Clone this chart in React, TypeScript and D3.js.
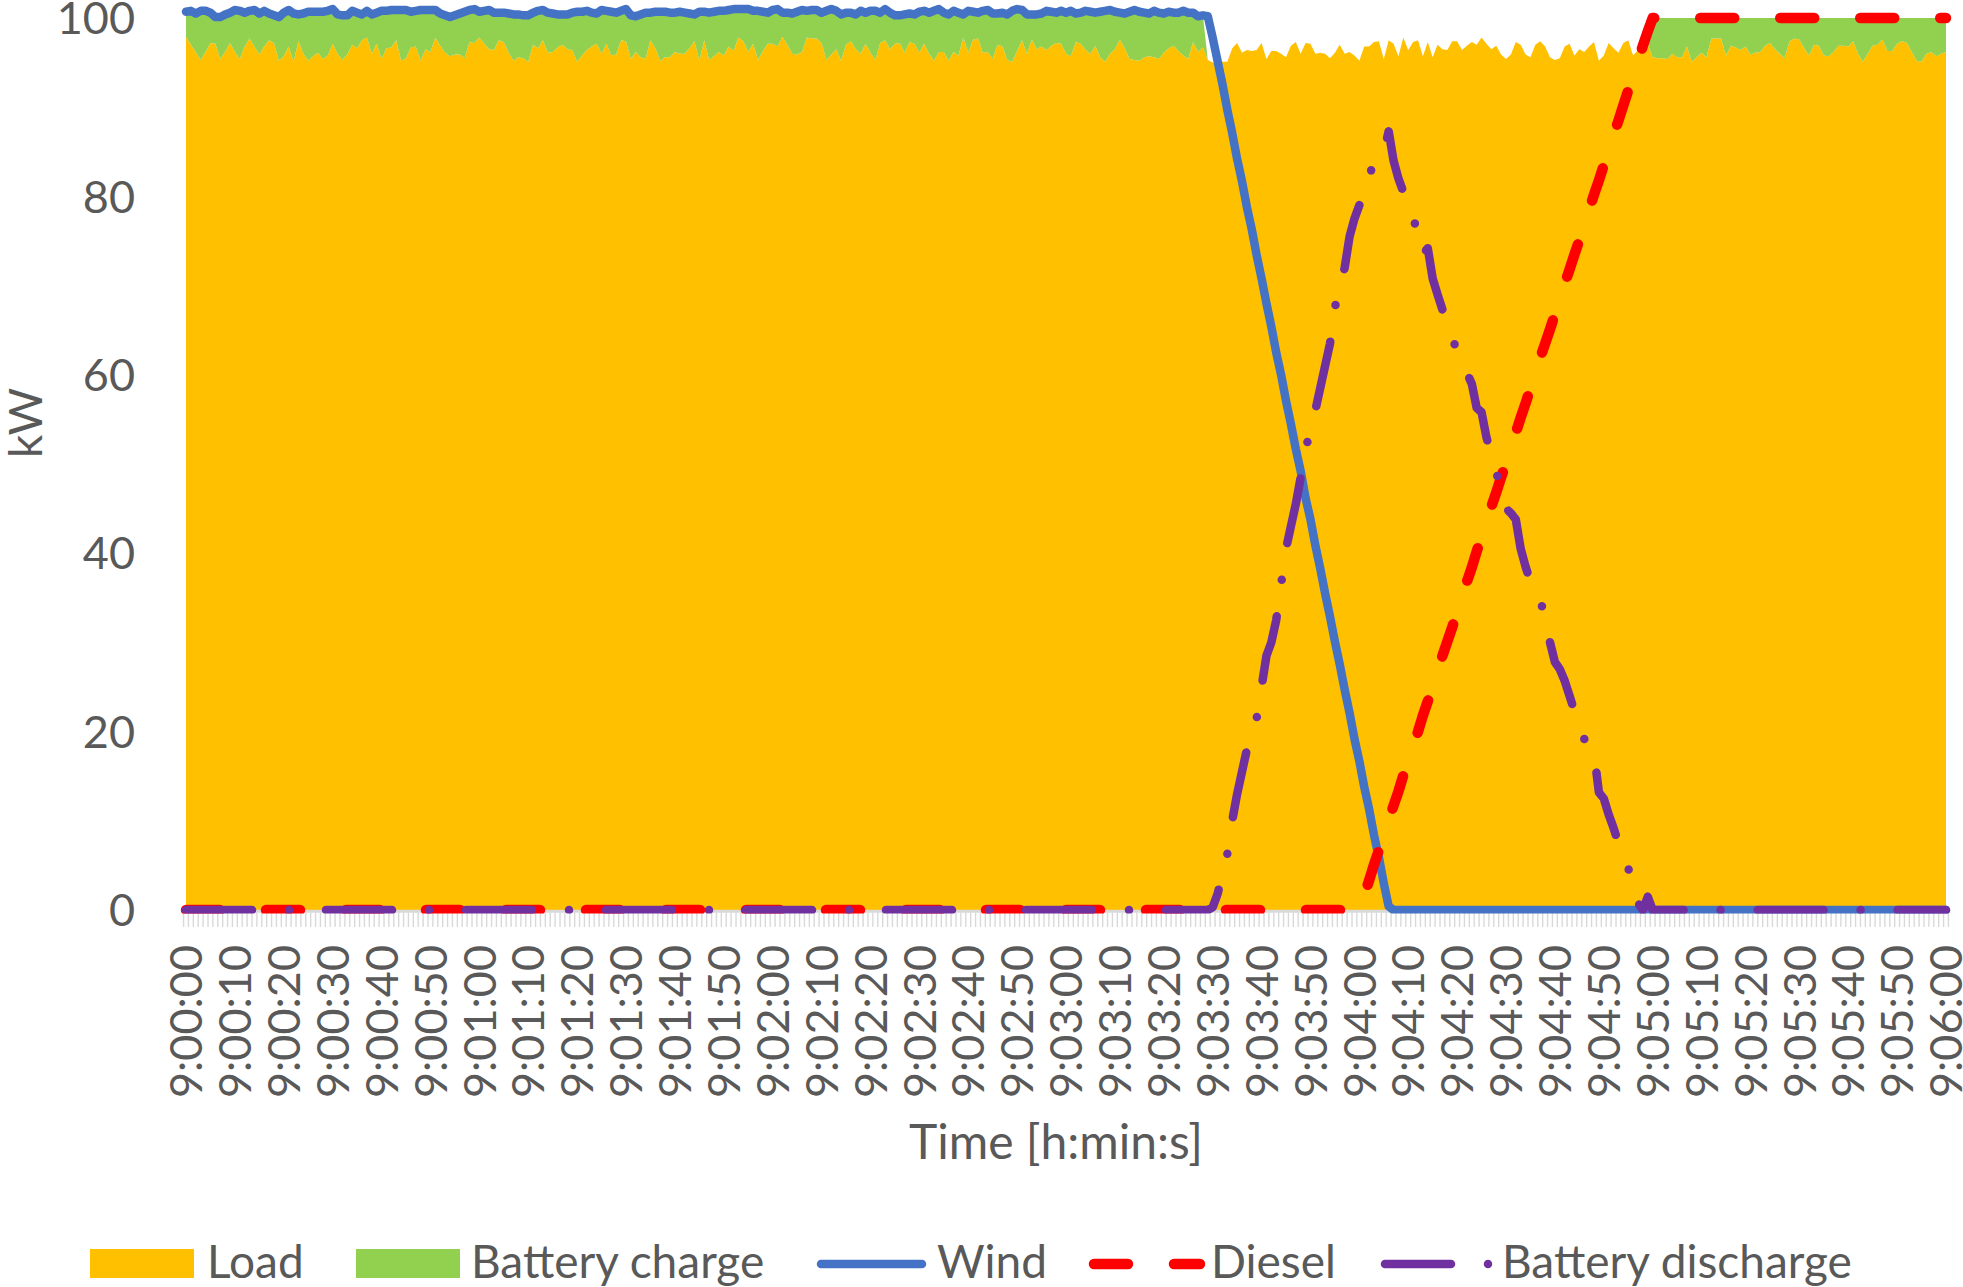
import React from "react";
import * as d3 from "d3";

// seconds after 9:00:00, one category per second
const categories: number[] = d3.range(0, 361);

const tickLabels = [
  "9:00:00","9:00:10","9:00:20","9:00:30","9:00:40","9:00:50",
  "9:01:00","9:01:10","9:01:20","9:01:30","9:01:40","9:01:50",
  "9:02:00","9:02:10","9:02:20","9:02:30","9:02:40","9:02:50",
  "9:03:00","9:03:10","9:03:20","9:03:30","9:03:40","9:03:50",
  "9:04:00","9:04:10","9:04:20","9:04:30","9:04:40","9:04:50",
  "9:05:00","9:05:10","9:05:20","9:05:30","9:05:40","9:05:50",
  "9:06:00",
];

const yTicks = [0, 20, 40, 60, 80, 100];

const load = [
  97.9, 97.0, 96.2, 95.3, 96.2, 97.2, 97.1, 95.4, 96.2, 97.2,
  96.2, 95.4, 96.8, 97.7, 96.8, 95.9, 96.8, 97.5, 97.2, 95.2,
  95.7, 96.8, 95.1, 97.4, 96.0, 95.2, 95.7, 96.1, 95.4, 95.8,
  97.1, 96.0, 95.3, 95.9, 97.0, 96.6, 97.5, 97.8, 96.0, 97.1,
  95.4, 96.6, 96.7, 97.5, 95.2, 95.5, 96.7, 96.8, 95.2, 96.5,
  96.2, 97.8, 96.9, 96.1, 95.7, 95.9, 95.9, 95.5, 97.3, 97.2,
  97.8, 97.1, 96.5, 96.4, 97.5, 97.3, 96.1, 95.2, 95.6, 95.5,
  95.1, 97.0, 96.6, 97.5, 96.1, 96.2, 96.7, 97.0, 96.5, 96.4,
  95.1, 95.8, 96.4, 96.8, 97.1, 96.0, 97.1, 95.8, 95.9, 97.5,
  97.4, 95.4, 96.2, 95.6, 95.4, 97.5, 96.6, 95.2, 95.6, 95.6,
  96.2, 96.0, 96.0, 96.6, 97.4, 95.2, 97.5, 95.3, 95.7, 96.2,
  95.8, 96.8, 96.3, 97.8, 97.4, 96.2, 97.1, 95.3, 96.3, 97.1,
  97.1, 96.8, 97.9, 97.0, 96.0, 95.9, 96.2, 97.8, 97.7, 97.7,
  97.2, 95.3, 95.9, 96.5, 95.2, 97.0, 97.4, 96.5, 96.0, 97.1,
  96.1, 95.3, 97.2, 97.5, 96.5, 97.1, 97.2, 96.1, 97.3, 97.1,
  96.1, 97.1, 96.0, 95.2, 96.2, 96.2, 95.2, 96.2, 95.8, 97.8,
  96.1, 97.6, 97.7, 96.1, 96.2, 95.4, 97.0, 96.8, 95.3, 95.1,
  96.3, 97.5, 96.0, 97.6, 96.5, 96.8, 96.4, 96.9, 97.2, 97.1,
  96.0, 95.7, 97.3, 97.1, 96.4, 96.0, 96.9, 95.6, 95.1, 96.0,
  96.5, 97.6, 96.6, 95.4, 95.3, 95.2, 95.6, 95.7, 95.6, 95.4,
  96.1, 96.6, 96.9, 96.3, 95.8, 95.4, 97.3, 96.2, 96.7, 95.3,
  95.0, 95.0, 95.1, 95.1, 96.6, 97.2, 96.1, 96.4, 96.3, 96.4,
  97.2, 95.4, 96.3, 96.3, 96.0, 95.6, 96.9, 97.3, 96.0, 97.2,
  97.1, 96.0, 96.1, 96.0, 95.5, 96.1, 97.0, 96.0, 96.2, 95.8,
  95.2, 96.8, 96.8, 97.3, 97.4, 95.4, 97.5, 97.1, 95.7, 97.8,
  96.4, 97.3, 97.5, 95.7, 97.3, 95.6, 97.0, 96.5, 96.4, 97.4,
  97.4, 96.4, 96.9, 97.3, 97.0, 97.8, 97.1, 96.5, 96.9, 95.9,
  95.4, 95.9, 97.3, 97.0, 95.9, 95.6, 97.0, 97.4, 96.8, 95.6,
  95.3, 95.5, 96.8, 97.1, 95.8, 96.5, 96.2, 96.8, 97.3, 95.2,
  95.8, 97.2, 96.6, 96.1, 97.2, 97.5, 95.8, 96.4, 96.8, 97.1,
  95.6, 95.5, 95.5, 95.4, 96.0, 95.6, 95.6, 96.8, 95.1, 95.6,
  96.1, 95.6, 97.7, 97.7, 97.7, 95.8, 96.9, 96.7, 96.4, 96.8,
  95.9, 96.1, 96.2, 96.9, 97.2, 96.5, 96.0, 95.5, 97.4, 97.7,
  97.6, 96.6, 95.8, 97.0, 96.9, 95.8, 95.7, 96.2, 96.9, 96.9,
  96.8, 97.4, 96.0, 95.1, 96.0, 96.9, 97.0, 97.6, 96.3, 96.3,
  97.1, 97.4, 97.2, 96.2, 95.2, 95.1, 96.0, 96.2, 95.7, 96.0,
  96.2,
];

const batteryCharge = [
  2.8, 3.8, 4.3, 5.5, 4.6, 3.4, 3.0, 4.7, 4.2, 3.4,
  4.7, 5.4, 3.8, 3.1, 4.1, 4.6, 4.0, 3.0, 3.1, 4.9,
  4.9, 4.1, 5.4, 3.0, 4.5, 5.5, 5.0, 4.6, 5.3, 5.0,
  3.9, 4.4, 5.0, 4.4, 3.8, 4.0, 2.9, 3.0, 4.4, 3.5,
  5.4, 4.2, 4.2, 3.4, 5.7, 5.4, 4.0, 4.0, 5.7, 4.4,
  4.7, 3.1, 3.6, 4.2, 4.4, 4.4, 4.6, 5.2, 3.6, 3.8,
  2.9, 3.7, 4.4, 4.2, 3.1, 3.3, 4.4, 5.2, 4.8, 4.8,
  5.2, 3.6, 4.2, 3.4, 4.5, 4.3, 3.7, 3.4, 3.9, 4.2,
  5.6, 4.9, 4.4, 3.8, 3.4, 4.9, 3.7, 4.9, 4.7, 3.3,
  3.6, 4.9, 4.0, 4.8, 5.2, 3.1, 4.1, 5.5, 5.1, 5.0,
  4.4, 4.7, 4.6, 3.9, 3.0, 5.5, 3.2, 5.3, 5.0, 4.6,
  5.0, 4.1, 4.7, 3.2, 3.6, 4.8, 3.7, 5.5, 4.4, 3.5,
  3.8, 4.2, 2.7, 3.6, 4.5, 4.8, 4.7, 3.0, 3.2, 3.2,
  3.4, 5.5, 5.1, 4.3, 5.2, 3.6, 3.2, 3.9, 4.8, 3.5,
  4.7, 5.5, 3.4, 3.5, 4.1, 3.2, 3.1, 4.3, 3.2, 3.3,
  4.6, 3.7, 4.6, 5.6, 4.8, 4.4, 5.2, 4.6, 4.8, 2.6,
  4.7, 3.1, 2.9, 4.7, 4.7, 5.1, 3.5, 3.8, 5.1, 5.7,
  4.7, 3.4, 4.4, 2.8, 3.9, 3.7, 4.4, 3.8, 3.4, 3.7,
  4.6, 5.1, 3.2, 3.5, 4.4, 4.7, 3.7, 5.1, 5.7, 4.9,
  4.2, 3.0, 3.9, 5.3, 5.6, 5.5, 5.0, 4.8, 5.2, 5.2,
  4.4, 4.1, 3.7, 4.3, 5.0, 5.2, 3.3, 4.0, 3.6, 0,
  0, 0, 0, 0, 0, 0, 0, 0, 0, 0,
  0, 0, 0, 0, 0, 0, 0, 0, 0, 0,
  0, 0, 0, 0, 0, 0, 0, 0, 0, 0,
  0, 0, 0, 0, 0, 0, 0, 0, 0, 0,
  0, 0, 0, 0, 0, 0, 0, 0, 0, 0,
  0, 0, 0, 0, 0, 0, 0, 0, 0, 0,
  0, 0, 0, 0, 0, 0, 0, 0, 0, 0,
  0, 0, 0, 0, 0, 0, 0, 0, 0, 0,
  0, 0, 0, 0, 0, 0, 0, 0, 0, 0,
  4.4, 4.5, 4.5, 4.6, 4.0, 4.4, 4.4, 3.2, 4.9, 4.4,
  3.9, 4.4, 2.3, 2.3, 2.3, 4.2, 3.1, 3.3, 3.6, 3.2,
  4.1, 3.9, 3.8, 3.1, 2.8, 3.5, 4.0, 4.5, 2.6, 2.3,
  2.4, 3.4, 4.2, 3.0, 3.1, 4.2, 4.3, 3.8, 3.1, 3.1,
  3.2, 2.6, 4.0, 4.9, 4.0, 3.1, 3.0, 2.4, 3.7, 3.7,
  2.9, 2.6, 2.8, 3.8, 4.8, 4.9, 4.0, 3.8, 4.3, 4.0,
  3.8,
];

const wind = [
  100.7, 100.8, 100.5, 100.8, 100.8, 100.6, 100.1, 100.1, 100.4, 100.6,
  100.9, 100.8, 100.6, 100.8, 100.9, 100.5, 100.8, 100.5, 100.3, 100.1,
  100.6, 100.9, 100.5, 100.4, 100.5, 100.7, 100.7, 100.7, 100.7, 100.8,
  101.0, 100.4, 100.3, 100.3, 100.8, 100.6, 100.4, 100.8, 100.4, 100.6,
  100.8, 100.8, 100.9, 100.9, 100.9, 100.9, 100.7, 100.8, 100.9, 100.9,
  100.9, 100.9, 100.5, 100.3, 100.1, 100.3, 100.5, 100.7, 100.9, 101.0,
  100.7, 100.8, 100.9, 100.6, 100.6, 100.6, 100.5, 100.4, 100.4, 100.3,
  100.3, 100.6, 100.8, 100.9, 100.6, 100.5, 100.4, 100.4, 100.4, 100.6,
  100.7, 100.7, 100.8, 100.6, 100.5, 100.9, 100.8, 100.7, 100.6, 100.8,
  101.0, 100.3, 100.2, 100.4, 100.6, 100.6, 100.7, 100.7, 100.7, 100.6,
  100.6, 100.7, 100.6, 100.5, 100.4, 100.7, 100.7, 100.6, 100.7, 100.8,
  100.8, 100.9, 101.0, 101.0, 101.0, 101.0, 100.8, 100.8, 100.7, 100.6,
  100.9, 101.0, 100.6, 100.6, 100.5, 100.7, 100.9, 100.8, 100.9, 100.9,
  100.6, 100.8, 101.0, 100.8, 100.4, 100.6, 100.6, 100.4, 100.8, 100.6,
  100.8, 100.8, 100.6, 101.0, 100.6, 100.3, 100.3, 100.4, 100.5, 100.4,
  100.7, 100.8, 100.6, 100.8, 101.0, 100.6, 100.4, 100.8, 100.6, 100.4,
  100.8, 100.7, 100.6, 100.8, 100.9, 100.5, 100.5, 100.6, 100.4, 100.8,
  101.0, 100.9, 100.4, 100.4, 100.4, 100.5, 100.8, 100.7, 100.6, 100.8,
  100.6, 100.8, 100.5, 100.6, 100.8, 100.7, 100.6, 100.7, 100.8, 100.9,
  100.7, 100.6, 100.5, 100.7, 100.9, 100.7, 100.6, 100.5, 100.8, 100.6,
  100.5, 100.7, 100.6, 100.6, 100.8, 100.6, 100.6, 100.2, 100.3, 100.2,
  97.8, 95.2, 92.6, 89.7, 87.1, 84.2, 81.7, 78.8, 76.3, 73.4,
  70.8, 68.0, 65.4, 62.5, 60.0, 57.1, 54.5, 51.7, 49.2, 46.2,
  43.8, 40.9, 38.3, 35.5, 32.9, 30.1, 27.5, 24.7, 22.1, 19.2,
  16.7, 13.8, 11.3, 8.4, 5.9, 3.0, 0.4, 0, 0, 0,
  0, 0, 0, 0, 0, 0, 0, 0, 0, 0,
  0, 0, 0, 0, 0, 0, 0, 0, 0, 0,
  0, 0, 0, 0, 0, 0, 0, 0, 0, 0,
  0, 0, 0, 0, 0, 0, 0, 0, 0, 0,
  0, 0, 0, 0, 0, 0, 0, 0, 0, 0,
  0, 0, 0, 0, 0, 0, 0, 0, 0, 0,
  0, 0, 0, 0, 0, 0, 0, 0, 0, 0,
  0, 0, 0, 0, 0, 0, 0, 0, 0, 0,
  0, 0, 0, 0, 0, 0, 0, 0, 0, 0,
  0, 0, 0, 0, 0, 0, 0, 0, 0, 0,
  0, 0, 0, 0, 0, 0, 0, 0, 0, 0,
  0,
];

const diesel = [
  0, 0, 0, 0, 0, 0, 0, 0, 0, 0,
  0, 0, 0, 0, 0, 0, 0, 0, 0, 0,
  0, 0, 0, 0, 0, 0, 0, 0, 0, 0,
  0, 0, 0, 0, 0, 0, 0, 0, 0, 0,
  0, 0, 0, 0, 0, 0, 0, 0, 0, 0,
  0, 0, 0, 0, 0, 0, 0, 0, 0, 0,
  0, 0, 0, 0, 0, 0, 0, 0, 0, 0,
  0, 0, 0, 0, 0, 0, 0, 0, 0, 0,
  0, 0, 0, 0, 0, 0, 0, 0, 0, 0,
  0, 0, 0, 0, 0, 0, 0, 0, 0, 0,
  0, 0, 0, 0, 0, 0, 0, 0, 0, 0,
  0, 0, 0, 0, 0, 0, 0, 0, 0, 0,
  0, 0, 0, 0, 0, 0, 0, 0, 0, 0,
  0, 0, 0, 0, 0, 0, 0, 0, 0, 0,
  0, 0, 0, 0, 0, 0, 0, 0, 0, 0,
  0, 0, 0, 0, 0, 0, 0, 0, 0, 0,
  0, 0, 0, 0, 0, 0, 0, 0, 0, 0,
  0, 0, 0, 0, 0, 0, 0, 0, 0, 0,
  0, 0, 0, 0, 0, 0, 0, 0, 0, 0,
  0, 0, 0, 0, 0, 0, 0, 0, 0, 0,
  0, 0, 0, 0, 0, 0, 0, 0, 0, 0,
  0, 0, 0, 0, 0, 0, 0, 0, 0, 0,
  0, 0, 0, 0, 0, 0, 0, 0, 0, 0,
  0, 0, 0, 0, 0, 0, 0, 0, 0, 0,
  0, 1.7, 3.3, 5.1, 6.7, 8.3, 10.1, 11.7, 13.3, 15.1,
  16.7, 18.4, 20.0, 21.8, 23.4, 25.0, 26.7, 28.5, 30.1, 31.7,
  33.4, 35.1, 36.8, 38.4, 40.2, 41.8, 43.4, 45.2, 46.8, 48.5,
  50.1, 51.8, 53.5, 55.2, 56.8, 58.5, 60.1, 61.9, 63.5, 65.1,
  66.8, 68.5, 70.2, 71.8, 73.5, 75.1, 76.9, 78.5, 80.2, 81.8,
  83.5, 85.2, 86.9, 88.5, 90.2, 91.9, 93.5, 95.2, 96.9, 98.5,
  100, 100, 100, 100, 100, 100, 100, 100, 100, 100,
  100, 100, 100, 100, 100, 100, 100, 100, 100, 100,
  100, 100, 100, 100, 100, 100, 100, 100, 100, 100,
  100, 100, 100, 100, 100, 100, 100, 100, 100, 100,
  100, 100, 100, 100, 100, 100, 100, 100, 100, 100,
  100, 100, 100, 100, 100, 100, 100, 100, 100, 100,
  100,
];

const batteryDischarge = [
  0, 0, 0, 0, 0, 0, 0, 0, 0, 0,
  0, 0, 0, 0, 0, 0, 0, 0, 0, 0,
  0, 0, 0, 0, 0, 0, 0, 0, 0, 0,
  0, 0, 0, 0, 0, 0, 0, 0, 0, 0,
  0, 0, 0, 0, 0, 0, 0, 0, 0, 0,
  0, 0, 0, 0, 0, 0, 0, 0, 0, 0,
  0, 0, 0, 0, 0, 0, 0, 0, 0, 0,
  0, 0, 0, 0, 0, 0, 0, 0, 0, 0,
  0, 0, 0, 0, 0, 0, 0, 0, 0, 0,
  0, 0, 0, 0, 0, 0, 0, 0, 0, 0,
  0, 0, 0, 0, 0, 0, 0, 0, 0, 0,
  0, 0, 0, 0, 0, 0, 0, 0, 0, 0,
  0, 0, 0, 0, 0, 0, 0, 0, 0, 0,
  0, 0, 0, 0, 0, 0, 0, 0, 0, 0,
  0, 0, 0, 0, 0, 0, 0, 0, 0, 0,
  0, 0, 0, 0, 0, 0, 0, 0, 0, 0,
  0, 0, 0, 0, 0, 0, 0, 0, 0, 0,
  0, 0, 0, 0, 0, 0, 0, 0, 0, 0,
  0, 0, 0, 0, 0, 0, 0, 0, 0, 0,
  0, 0, 0, 0, 0, 0, 0, 0, 0, 0,
  0, 0, 0, 0, 0, 0, 0, 0, 0, 0,
  0.3, 1.8, 4.0, 6.3, 10.0, 13.0, 15.5, 18.0, 19.5, 21.5,
  25.0, 28.5, 30.0, 32.5, 36.5, 40.5, 43.0, 45.5, 48.5, 51.5,
  54.0, 56.0, 58.5, 61.0, 63.5, 67.5, 70.0, 72.0, 75.5, 77.5,
  79.0, 81.5, 82.5, 83.5, 84.0, 85.0, 87.3, 84.0, 82.0, 80.5,
  79.0, 77.5, 76.0, 73.5, 74.2, 70.8, 69.0, 67.3, 65.8, 64.0,
  62.8, 61.2, 60.2, 59.0, 56.3, 55.8, 53.0, 51.0, 49.3, 46.3,
  45.0, 44.5, 43.8, 40.5, 38.5, 36.8, 35.5, 34.5, 33.2, 30.0,
  27.8, 27.0, 25.7, 24.0, 22.3, 20.5, 19.2, 18.2, 17.6, 13.2,
  12.5, 10.7, 9.2, 7.5, 6.0, 4.8, 2.0, 0.8, 0.0, 1.5,
  0, 0, 0, 0, 0, 0, 0, 0, 0, 0,
  0, 0, 0, 0, 0, 0, 0, 0, 0, 0,
  0, 0, 0, 0, 0, 0, 0, 0, 0, 0,
  0, 0, 0, 0, 0, 0, 0, 0, 0, 0,
  0, 0, 0, 0, 0, 0, 0, 0, 0, 0,
  0, 0, 0, 0, 0, 0, 0, 0, 0, 0,
  0,
];

const COLORS = {
  load: "#FFC000",
  charge: "#92D050",
  wind: "#4472C4",
  diesel: "#FF0000",
  discharge: "#7030A0",
  text: "#595959",
  axis: "#D9D9D9",
};

const FONT = "Lato, 'Open Sans', sans-serif";

export default function App() {
  const width = 1963;
  const height = 1287;
  const x = d3.scalePoint<number>().domain(categories).range([186, 1946]);
  const step = x.step();
  const y = d3.scaleLinear().domain([0, 100]).range([910, 18]);

  const rows = categories.map((c, i) => ({
    t: c,
    load: load[i],
    charge: batteryCharge[i],
  }));
  const stacked = d3.stack<any>().keys(["load", "charge"])(rows);

  const area = d3
    .area<any>()
    .x((d) => x(d.data.t) as number)
    .y0((d) => y(d[0]))
    .y1((d) => y(d[1]));

  const line = d3
    .line<number>()
    .x((_, i) => x(categories[i]) as number)
    .y((v) => y(v));

  const labelIdx = tickLabels.map((_, k) => k * 10);

  const legendY = 1264;
  const tickFont = 45;
  const textFont = 46;

  return (
    <svg
      width={width}
      height={height}
      style={{ position: "absolute", left: 0, top: 0, display: "block", background: "#fff" }}
      fontFamily={FONT}
    >
      <defs>
        <clipPath id="plotClip">
          <rect x={0} y={-50} width={width} height={913.5 + 50} />
        </clipPath>
      </defs>

      {/* stacked areas */}
      <path d={area(stacked[0]) || ""} fill={COLORS.load} />
      <path d={area(stacked[1]) || ""} fill={COLORS.charge} />

      {/* category axis */}
      <line x1={x(0)! - step / 2} x2={x(360)! + step / 2} y1={911.3} y2={911.3} stroke={COLORS.axis} strokeWidth={3} />
      {d3.range(0, 362).map((k) => {
        const xx = (x(0) as number) + (k - 0.5) * step;
        return <line key={k} x1={xx} x2={xx} y1={912.5} y2={927} stroke={COLORS.axis} strokeWidth={1.4} />;
      })}

      {/* series lines */}
      <g clipPath="url(#plotClip)" fill="none" strokeLinecap="round" strokeLinejoin="round">
        <path d={line(wind) || ""} stroke={COLORS.wind} strokeWidth={8.5} />
        <path d={line(diesel) || ""} stroke={COLORS.diesel} strokeWidth={10.5} strokeDasharray="34 46" />
        <path d={line(batteryDischarge) || ""} stroke={COLORS.discharge} strokeWidth={8.5} strokeDasharray="66 37 0 37" />
      </g>

      {/* y axis labels */}
      {yTicks.map((v) => (
        <text key={v} x={135} y={y(v)} dy="0.36em" textAnchor="end" fontSize={tickFont} fill={COLORS.text}>
          {v}
        </text>
      ))}
      <text
        transform={`translate(25,423) rotate(-90)`}
        textAnchor="middle"
        dy="0.36em"
        fontSize={textFont}
        fill={COLORS.text}
      >
        kW
      </text>

      {/* x tick labels */}
      {labelIdx.map((ci, k) => (
        <text
          key={ci}
          transform={`translate(${x(categories[ci])},945) rotate(-90)`}
          textAnchor="end"
          dy="0.36em"
          fontSize={tickFont}
          fill={COLORS.text}
        >
          {tickLabels[k]}
        </text>
      ))}
      <text x={1056} y={1142} dy="0.36em" textAnchor="middle" fontSize={48} fill={COLORS.text}>
        Time [h:min:s]
      </text>

      {/* legend */}
      <g fontSize={textFont} fill={COLORS.text}>
        <rect x={90} y={1249} width={104} height={29} fill={COLORS.load} />
        <text x={207} y={1278}>Load</text>
        <rect x={356} y={1249} width={104} height={29} fill={COLORS.charge} />
        <text x={471} y={1278}>Battery charge</text>
        <path d={`M821,${legendY}H922`} stroke={COLORS.wind} strokeWidth={8.5} strokeLinecap="round" />
        <text x={937} y={1278}>Wind</text>
        <path d={`M1094,${legendY}H1200`} stroke={COLORS.diesel} strokeWidth={10.5} strokeLinecap="round" strokeDasharray="34 46" />
        <text x={1211} y={1278}>Diesel</text>
        <path d={`M1385,${legendY}H1490`} stroke={COLORS.discharge} strokeWidth={8.5} strokeLinecap="round" strokeDasharray="66 37 0 37" />
        <text x={1502} y={1278}>Battery discharge</text>
      </g>
    </svg>
  );
}
